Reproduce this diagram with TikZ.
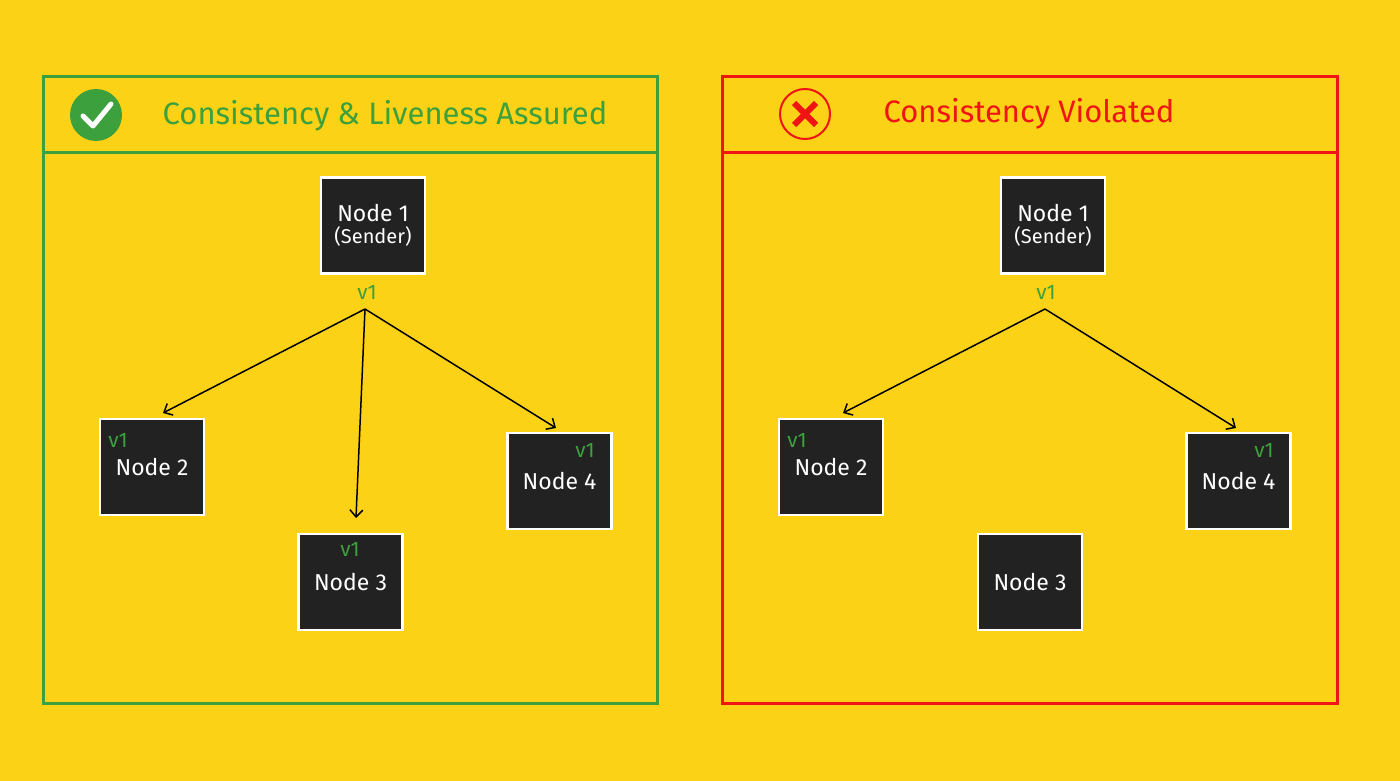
\documentclass[tikz,border=0pt]{standalone}
\usepackage{fontspec}
\setmainfont{Fira Sans}
\usetikzlibrary{arrows.meta}
\begin{document}
\definecolor{bg}{RGB}{252,210,22}
\definecolor{gr}{RGB}{60,160,60}
\definecolor{rd}{RGB}{240,20,20}
\definecolor{nd}{RGB}{34,34,34}
\begin{tikzpicture}[x=1pt,y=-1pt,
  box/.style={draw=white,line width=2.5pt,fill=nd,minimum width=104pt,minimum height=96pt,text=white,font=\fontsize{23}{25}\selectfont,align=center,inner sep=0pt},
  vl/.style={text=gr,font=\fontsize{21}{22}\selectfont,inner sep=0pt},
  ar/.style={-{Straight Barb[length=7pt,width=13pt]},line width=1.5pt,black},
  ttl/.style={font=\fontsize{31}{33}\selectfont}]
\fill[bg] (0,0) rectangle (1400,781);
\useasboundingbox (0,0) rectangle (1400,781);
% left panel
\draw[gr,line width=3pt] (43,77) rectangle (657,703);
\draw[gr,line width=3pt] (43,153) -- (657,153);
\node[circle,fill=gr,minimum size=52pt,inner sep=0pt] (ok) at (96,115) {};
\draw[white,line width=5pt,line cap=round,line join=round] (83,116) -- (93,126) -- (111,104);
\node[ttl,text=gr] (t1) at (385,116) {Consistency \& Liveness Assured};
\node[box] (a1) at (373,225.5) {Node 1\\[-3pt]{\fontsize{20}{22}\selectfont (Sender)}};
\node[vl] (av) at (367,292) {v1};
\node[box] (a2) at (152,467) {Node 2};
\node[box] (a4) at (559.5,481) {Node 4};
\node[box] (a3) at (350.5,582) {Node 3};
\node[vl] (a2v) at (118,440) {v1};
\node[vl] (a4v) at (585,450) {v1};
\node[vl] (a3v) at (350,549) {v1};
\coordinate (as) at (365,309);
\coordinate (e2) at (163,413);
\coordinate (e3) at (356,518);
\coordinate (e4) at (556,428);
\draw[ar] (as) -- (e2);
\draw[ar] (as) -- (e3);
\draw[ar] (as) -- (e4);
% right panel
\draw[rd,line width=3pt] (722,77) rectangle (1337,703);
\draw[rd,line width=3pt] (722,153) -- (1337,153);
\node[circle,draw=rd,line width=2pt,minimum size=50pt,inner sep=0pt] (no) at (805,114) {};
\draw[rd,line width=6pt] (794,103) -- (816,125) (816,103) -- (794,125);
\node[ttl,text=rd] (t2) at (1029,114) {Consistency Violated};
\node[box] (b1) at (1053,225.5) {Node 1\\[-3pt]{\fontsize{20}{22}\selectfont (Sender)}};
\node[vl] (bv) at (1046,292) {v1};
\node[box] (b2) at (831,467) {Node 2};
\node[box] (b4) at (1238.5,481) {Node 4};
\node[box] (b3) at (1030,582) {Node 3};
\node[vl] (b2v) at (797,440) {v1};
\node[vl] (b4v) at (1264,450) {v1};
\coordinate (bs) at (1045,309);
\coordinate (f2) at (843,413);
\coordinate (f4) at (1236,428);
\draw[ar] (bs) -- (f2);
\draw[ar] (bs) -- (f4);
\end{tikzpicture}
\end{document}
